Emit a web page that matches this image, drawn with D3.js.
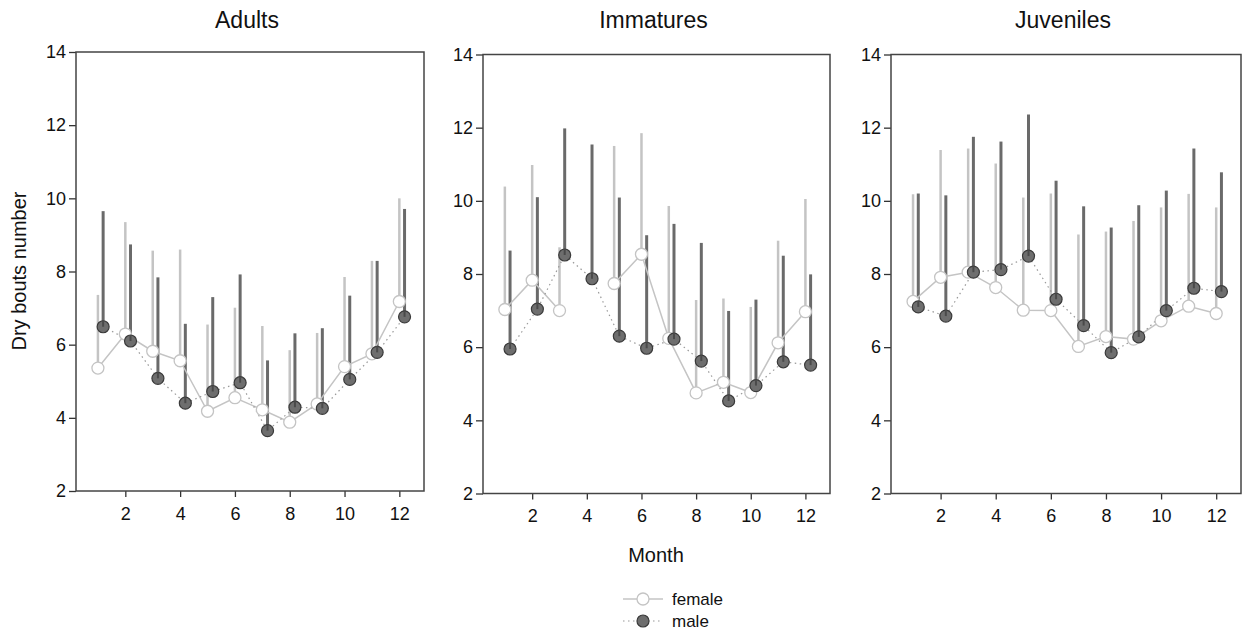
<!DOCTYPE html>
<html>
<head>
<meta charset="utf-8">
<script src="https://cdn.jsdelivr.net/npm/d3@7"></script>
<style>
  body { margin: 0; background: #fff; }
  svg { font-family: "Liberation Sans", Arial, sans-serif; }
</style>
</head>
<body>
<script>
// data (mean and upper end of the error bar)
var months = [1, 2, 3, 4, 5, 6, 7, 8, 9, 10, 11, 12];
var yTicks = [2, 4, 6, 8, 10, 12, 14];
var xTicks = [2, 4, 6, 8, 10, 12];
var panelTitles = ["Adults", "Immatures", "Juveniles"];

var adultsFemale      = [5.36, 6.29, 5.82, 5.56, 4.18, 4.55, 4.22, 3.88, 4.38, 5.40, 5.75, 7.18];
var adultsFemaleUpper = [7.36, 9.35, 8.57, 8.60, 6.55, 7.01, 6.51, 5.85, 6.32, 7.85, 8.29, 10.00];
var adultsMale        = [6.49, 6.10, 5.08, 4.40, 4.72, 4.96, 3.65, 4.29, 4.26, 5.05, 5.79, 6.76];
var adultsMaleUpper   = [9.65, 8.74, 7.84, 6.57, 7.30, 7.92, 5.57, 6.31, 6.45, 7.34, 8.29, 9.71];

var immFemale      = [7.03, 7.83, 7.00, null, 7.74, 8.54, 6.24, 4.75, 5.04, 4.76, 6.12, 6.97];
var immFemaleUpper = [10.39, 10.98, 8.73, null, 11.50, 11.85, 9.86, 7.29, 7.33, 7.10, 8.91, 10.05];
var immMale        = [5.95, 7.04, 8.52, 7.87, 6.30, 5.97, 6.22, 5.62, 4.53, 4.95, 5.60, 5.51];
var immMaleUpper   = [8.64, 10.10, 11.98, 11.54, 10.09, 9.06, 9.37, 8.85, 6.99, 7.30, 8.50, 7.99];

var juvFemale      = [7.25, 7.91, 8.05, 7.63, 7.01, 7.00, 6.02, 6.29, 6.22, 6.72, 7.12, 6.92];
var juvFemaleUpper = [10.18, 11.39, 11.43, 11.02, 10.09, 10.20, 9.08, 9.16, 9.45, 9.82, 10.19, 9.82];
var juvMale        = [7.10, 6.85, 8.05, 8.12, 8.49, 7.31, 6.59, 5.85, 6.28, 7.00, 7.61, 7.52];
var juvMaleUpper   = [10.20, 10.15, 11.75, 11.62, 12.36, 10.55, 9.85, 9.27, 9.88, 10.28, 11.43, 10.78];

var panelData = [
  [adultsFemale, adultsFemaleUpper, adultsMale, adultsMaleUpper],
  [immFemale, immFemaleUpper, immMale, immMaleUpper],
  [juvFemale, juvFemaleUpper, juvMale, juvMaleUpper]
];

// layout
var W = 1242, H = 634;
var boxes = [
  {x0: 76, x1: 424, y0: 52, y1: 491},
  {x0: 483, x1: 830, y0: 54.5, y1: 493.5},
  {x0: 891, x1: 1241, y0: 54.5, y1: 493.5}
];
var maleShift = 0.19;
var femaleCol = "#c4c4c4", maleCol = "#6a6a6a";

var svg = d3.select("body").append("svg")
    .attr("width", W)
    .attr("height", H);

boxes.forEach(function(b, i) {
  var x = d3.scaleLinear().domain([0.2, 12.9]).range([b.x0, b.x1]);
  var y = d3.scaleLinear().domain([2, 14]).range([b.y1, b.y0]);
  var g = svg.append("g");
  var d = panelData[i];

  var rows = months.map(function(m, k) {
    return {m: m, f: d[0][k], fu: d[1][k], ma: d[2][k], mu: d[3][k]};
  });

  // axes
  var ya = g.append("g")
      .attr("transform", "translate(" + b.x0 + ",0)")
      .call(d3.axisLeft(y).tickValues(yTicks).tickSize(7).tickPadding(3));
  var xa = g.append("g")
      .attr("transform", "translate(0," + b.y1 + ")")
      .call(d3.axisBottom(x).tickValues(xTicks).tickSize(6).tickPadding(10));
  [ya, xa].forEach(function(a) {
    a.select(".domain").remove();
    a.selectAll("line").attr("stroke", "#333").attr("stroke-width", 1.3);
    a.selectAll("text").attr("font-size", 18).attr("fill", "#111")
      .attr("font-family", "Liberation Sans, Arial, sans-serif");
  });

  g.append("rect")
      .attr("x", b.x0).attr("y", b.y0)
      .attr("width", b.x1 - b.x0).attr("height", b.y1 - b.y0)
      .attr("fill", "none").attr("stroke", "#444").attr("stroke-width", 1.5);

  // error bars (upper half only)
  g.selectAll(".fbar").data(rows.filter(function(r) { return r.f != null; }))
    .enter().append("line")
      .attr("x1", function(r) { return x(r.m); })
      .attr("x2", function(r) { return x(r.m); })
      .attr("y1", function(r) { return y(r.f); })
      .attr("y2", function(r) { return y(r.fu); })
      .attr("stroke", femaleCol).attr("stroke-width", 2.5);

  g.selectAll(".mbar").data(rows)
    .enter().append("line")
      .attr("x1", function(r) { return x(r.m + maleShift); })
      .attr("x2", function(r) { return x(r.m + maleShift); })
      .attr("y1", function(r) { return y(r.ma); })
      .attr("y2", function(r) { return y(r.mu); })
      .attr("stroke", maleCol).attr("stroke-width", 3);

  // lines
  var fLine = d3.line()
      .defined(function(r) { return r.f != null; })
      .x(function(r) { return x(r.m); })
      .y(function(r) { return y(r.f); });
  var mLine = d3.line()
      .x(function(r) { return x(r.m + maleShift); })
      .y(function(r) { return y(r.ma); });

  g.append("path").attr("d", fLine(rows))
      .attr("fill", "none").attr("stroke", femaleCol).attr("stroke-width", 1.5);
  g.append("path").attr("d", mLine(rows))
      .attr("fill", "none").attr("stroke", "#999").attr("stroke-width", 1.2)
      .attr("stroke-dasharray", "1.5,3.5");

  // markers
  g.selectAll(".fpt").data(rows.filter(function(r) { return r.f != null; }))
    .enter().append("circle")
      .attr("cx", function(r) { return x(r.m); })
      .attr("cy", function(r) { return y(r.f); })
      .attr("r", 6)
      .attr("fill", "#fff").attr("stroke", femaleCol).attr("stroke-width", 1.3);

  g.selectAll(".mpt").data(rows)
    .enter().append("circle")
      .attr("cx", function(r) { return x(r.m + maleShift); })
      .attr("cy", function(r) { return y(r.ma); })
      .attr("r", 6)
      .attr("fill", "#6e6e6e").attr("stroke", "#3a3a3a").attr("stroke-width", 1.2);

  // little bar stub visible inside the male markers
  g.selectAll(".mstub").data(rows)
    .enter().append("line")
      .attr("x1", function(r) { return x(r.m + maleShift); })
      .attr("x2", function(r) { return x(r.m + maleShift); })
      .attr("y1", function(r) { return y(r.ma); })
      .attr("y2", function(r) { return y(r.ma) - 6; })
      .attr("stroke", "#4a4a4a").attr("stroke-width", 2);

  svg.append("text")
      .attr("x", (b.x0 + b.x1) / 2 - 3)
      .attr("y", 28)
      .attr("text-anchor", "middle")
      .attr("font-size", 23)
      .attr("fill", "#111")
      .text(panelTitles[i]);
});

// axis titles
svg.append("text")
    .attr("transform", "translate(26,271) rotate(-90)")
    .attr("text-anchor", "middle")
    .attr("font-size", 20)
    .attr("fill", "#111")
    .text("Dry bouts number");

svg.append("text")
    .attr("x", 656).attr("y", 562)
    .attr("text-anchor", "middle")
    .attr("font-size", 20)
    .attr("fill", "#111")
    .text("Month");

// legend
var legend = svg.append("g");
legend.append("line").attr("x1", 623).attr("x2", 663).attr("y1", 599).attr("y2", 599)
    .attr("stroke", femaleCol).attr("stroke-width", 1.5);
legend.append("circle").attr("cx", 643).attr("cy", 599).attr("r", 6)
    .attr("fill", "#fff").attr("stroke", femaleCol).attr("stroke-width", 1.3);
legend.append("line").attr("x1", 623).attr("x2", 663).attr("y1", 621).attr("y2", 621)
    .attr("stroke", "#999").attr("stroke-width", 1.2).attr("stroke-dasharray", "1.5,3.5");
legend.append("circle").attr("cx", 643).attr("cy", 621).attr("r", 6)
    .attr("fill", "#6e6e6e").attr("stroke", "#3a3a3a").attr("stroke-width", 1.2);
legend.append("text").attr("x", 672).attr("y", 605).attr("font-size", 17).attr("fill", "#111").text("female");
legend.append("text").attr("x", 672).attr("y", 627).attr("font-size", 17).attr("fill", "#111").text("male");
</script>
</body>
</html>
